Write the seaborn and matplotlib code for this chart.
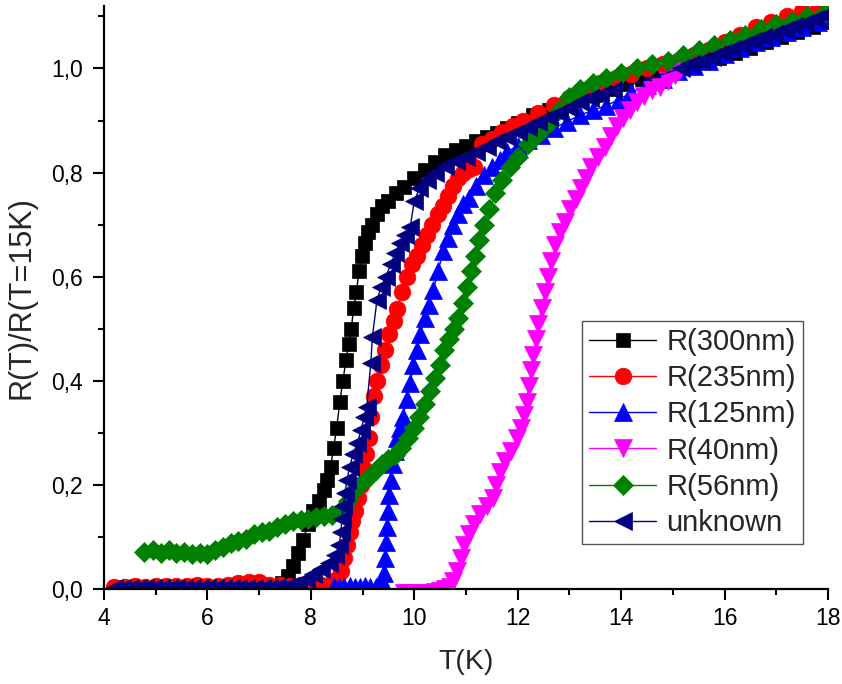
import matplotlib
matplotlib.use("Agg")
import matplotlib.pyplot as plt
import seaborn as sns
from matplotlib.ticker import MultipleLocator, FuncFormatter

# ── Data (T in K, normalised resistance) ─────────────────────────────────────
t_300 = [4.3, 4.5, 4.7, 4.9, 5.1, 5.3, 5.5, 5.7, 5.9, 6.1, 6.3, 6.5, 6.7, 6.9, 7.1, 7.3,
         7.45, 7.55, 7.65, 7.75, 7.85, 7.95, 8.05, 8.15, 8.25, 8.32, 8.38, 8.44, 8.5, 8.56,
         8.62, 8.68, 8.73, 8.78, 8.83, 8.88, 8.93, 8.98, 9.04, 9.1, 9.18, 9.27, 9.37, 9.5,
         9.65, 9.8, 10.0, 10.2, 10.4, 10.6, 10.8, 11.0, 11.2, 11.4, 11.6, 11.8, 12.0, 12.3,
         12.6, 12.9, 13.2, 13.5, 13.8, 14.1, 14.4, 14.7, 15.0, 15.3, 15.6, 15.9, 16.2, 16.5,
         16.8, 17.1, 17.4, 17.7, 18.0]
r_300 = [0.003, 0.003, 0.003, 0.003, 0.003, 0.003, 0.003, 0.003, 0.003, 0.003, 0.003, 0.003,
         0.003, 0.003, 0.004, 0.006,
         0.012, 0.025, 0.045, 0.07, 0.095, 0.125, 0.15, 0.17, 0.19, 0.21, 0.235, 0.27, 0.31, 0.36,
         0.40, 0.44, 0.47, 0.50, 0.54, 0.57, 0.61, 0.64, 0.665, 0.685, 0.70, 0.72, 0.735, 0.745,
         0.76, 0.772, 0.79, 0.805, 0.82, 0.833, 0.843, 0.852, 0.86, 0.868, 0.877, 0.885, 0.895, 0.91,
         0.92, 0.93, 0.94, 0.95, 0.96, 0.97, 0.98, 0.99, 0.998, 1.005, 1.012, 1.02, 1.03, 1.04,
         1.05, 1.06, 1.07, 1.08, 1.09]

t_235 = [4.2, 4.4, 4.6, 4.8, 5.0, 5.2, 5.4, 5.6, 5.8, 6.0, 6.2, 6.4, 6.6, 6.8, 7.0, 7.2, 7.4,
         7.6, 7.8, 8.0, 8.2, 8.4, 8.5, 8.58, 8.65, 8.7, 8.75, 8.8, 8.86, 8.92, 8.97, 9.02, 9.07,
         9.12, 9.17, 9.22, 9.28, 9.35, 9.43, 9.52, 9.6, 9.67, 9.76, 9.86, 9.95, 10.05, 10.15,
         10.25, 10.35, 10.45, 10.55, 10.65, 10.75, 10.85, 10.95, 11.05, 11.15,
         11.3, 11.5, 11.7, 11.9, 12.1, 12.4, 12.7, 13.0, 13.3, 13.6, 13.9, 14.2, 14.5, 14.8,
         15.1, 15.4, 15.7, 16.0, 16.3, 16.6, 16.9, 17.2, 17.5, 17.8, 18.0]
r_235 = [0.004, 0.004, 0.005, 0.004, 0.005, 0.006, 0.005, 0.006, 0.008, 0.006, 0.006, 0.007,
         0.011, 0.014, 0.013, 0.008, 0.007, 0.006, 0.007, 0.008, 0.008, 0.012, 0.02, 0.035, 0.06,
         0.085, 0.11, 0.13, 0.15, 0.175, 0.20, 0.23, 0.26, 0.29, 0.33, 0.37, 0.40, 0.43, 0.46,
         0.49, 0.515, 0.537, 0.57, 0.60, 0.625, 0.64, 0.66, 0.68, 0.70, 0.72, 0.735, 0.755, 0.775,
         0.79, 0.80, 0.806, 0.81,
         0.855, 0.865, 0.878, 0.89, 0.90, 0.915, 0.93, 0.944, 0.958, 0.972, 0.982, 0.99, 1.0,
         1.008, 1.015, 1.025, 1.035, 1.05, 1.065, 1.08, 1.09, 1.10, 1.11, 1.115, 1.12]

t_125 = [8.45, 8.55, 8.65, 8.75, 8.85, 8.95, 9.05, 9.15, 9.25, 9.35, 9.4, 9.42, 9.44, 9.46,
         9.48, 9.5, 9.52, 9.55, 9.58, 9.62, 9.67, 9.72, 9.78, 9.85, 9.92, 9.98, 10.05, 10.12,
         10.2, 10.28, 10.37, 10.46, 10.56, 10.65, 10.75, 10.85, 10.95, 11.05, 11.2, 11.35, 11.5,
         11.65, 11.8, 12.0, 12.2, 12.45, 12.7, 12.95, 13.2, 13.45, 13.7, 13.95, 14.2, 14.5, 14.8,
         15.1, 15.4, 15.7, 16.0, 16.3, 16.6, 16.9, 17.2, 17.5, 17.8, 18.0]
r_125 = [0.004, 0.004, 0.004, 0.005, 0.004, 0.004, 0.005, 0.004, 0.004, 0.005, 0.012, 0.03,
         0.06, 0.09, 0.12, 0.15, 0.18, 0.21, 0.24, 0.265, 0.29, 0.31, 0.33, 0.365, 0.396, 0.43,
         0.46, 0.49, 0.52, 0.545, 0.575, 0.61, 0.65, 0.675, 0.70, 0.72, 0.74, 0.752, 0.775, 0.795,
         0.81, 0.825, 0.84, 0.852, 0.862, 0.872, 0.885, 0.898, 0.91, 0.92, 0.928, 0.94, 0.954,
         0.968, 0.98, 0.995, 1.005, 1.015, 1.028, 1.04, 1.05, 1.06, 1.07, 1.08, 1.09, 1.10]

t_40 = [9.8, 9.9, 10.0, 10.1, 10.2, 10.3, 10.4, 10.5, 10.6, 10.7, 10.75, 10.82, 10.9, 10.97,
        11.05, 11.15, 11.27, 11.4, 11.52, 11.58, 11.65, 11.75, 11.87, 11.98, 12.06, 12.12, 12.17,
        12.21, 12.26, 12.3, 12.35, 12.4, 12.46, 12.52, 12.58, 12.65, 12.73, 12.82, 12.92, 13.02,
        13.12, 13.22, 13.32, 13.42, 13.55, 13.68, 13.8, 13.92, 14.04, 14.17, 14.3, 14.45, 14.6,
        14.75, 14.9, 15.05, 15.12]
r_40 = [-0.008, -0.008, -0.008, -0.008, -0.008, -0.008, -0.006, -0.004, 0.0, 0.004, 0.015, 0.035,
        0.06, 0.085, 0.105, 0.125, 0.145, 0.16, 0.175, 0.20, 0.225, 0.245, 0.265, 0.29, 0.31,
        0.335, 0.36, 0.39, 0.42, 0.45, 0.48, 0.51, 0.54, 0.57, 0.60, 0.63, 0.66, 0.685, 0.705,
        0.73, 0.75, 0.77, 0.79, 0.81, 0.83, 0.85, 0.87, 0.89, 0.905, 0.92, 0.935, 0.948, 0.958,
        0.965, 0.975, 0.988, 0.995]

t_56 = [4.78, 4.95, 5.1, 5.25, 5.4, 5.55, 5.7, 5.85, 6.0, 6.15, 6.3, 6.45, 6.6, 6.75, 6.9,
        7.05, 7.2, 7.35, 7.5, 7.65, 7.8, 7.95, 8.1, 8.25, 8.4, 8.55, 8.65, 8.72, 8.8, 8.9, 9.0,
        9.12, 9.25, 9.38, 9.5, 9.62, 9.75, 9.88, 10.0, 10.1, 10.2, 10.3, 10.4, 10.5, 10.58,
        10.67, 10.76, 10.85, 10.94, 11.02, 11.1, 11.18, 11.26, 11.35, 11.45, 11.57, 11.7, 11.85,
        12.0, 12.2, 12.4, 12.6, 12.8, 13.0, 13.2, 13.45, 13.7, 14.0, 14.3, 14.6, 14.9, 15.2,
        15.5, 15.8, 16.1, 16.4, 16.7, 17.0, 17.3, 17.6, 17.9, 18.0]
r_56 = [0.072, 0.074, 0.07, 0.075, 0.07, 0.072, 0.068, 0.07, 0.068, 0.075, 0.08, 0.088, 0.092,
        0.097, 0.105, 0.11, 0.112, 0.12, 0.125, 0.13, 0.132, 0.135, 0.138, 0.14, 0.142, 0.148,
        0.155, 0.17, 0.185, 0.195, 0.205, 0.215, 0.228, 0.24, 0.25, 0.258, 0.27, 0.29, 0.31,
        0.33, 0.355, 0.38, 0.405, 0.43, 0.46, 0.48, 0.50, 0.52, 0.55, 0.58, 0.61, 0.64, 0.67,
        0.70, 0.73, 0.76, 0.785, 0.81, 0.83, 0.855, 0.875, 0.895, 0.92, 0.945, 0.96, 0.972,
        0.982, 0.992, 1.0, 1.008, 1.015, 1.025, 1.035, 1.045, 1.055, 1.065, 1.075, 1.085,
        1.092, 1.10, 1.105, 1.108]

t_unk = [4.2, 4.35, 4.5, 4.65, 4.8, 4.95, 5.1, 5.25, 5.4, 5.55, 5.7, 5.85, 6.0, 6.15, 6.3,
         6.45, 6.6, 6.75, 6.9, 7.05, 7.2, 7.35, 7.5, 7.6, 7.75, 7.9, 8.05, 8.2, 8.35, 8.47, 8.55,
         8.58, 8.6, 8.63, 8.66, 8.7, 8.75, 8.82, 8.9, 8.97, 9.03, 9.08, 9.16, 9.19, 9.28, 9.36,
         9.45, 9.55, 9.63, 9.72, 9.82, 9.92, 10.0, 10.1, 10.25, 10.4, 10.6, 10.8, 11.0, 11.2,
         11.4, 11.6, 11.8, 12.0, 12.2, 12.4, 12.6, 12.8, 13.0, 13.2, 13.4, 13.6, 13.85,
         15.15, 15.35, 15.55, 15.75, 15.95, 16.15, 16.35, 16.55, 16.75, 16.95, 17.15, 17.35,
         17.55, 17.75, 17.95]
r_unk = [0.002, 0.002, 0.002, 0.002, 0.002, 0.002, 0.002, 0.002, 0.002, 0.002, 0.002, 0.002,
         0.002, 0.002, 0.002, 0.002, 0.002, 0.002, 0.002, 0.002, 0.002, 0.003, 0.004, 0.006,
         0.012, 0.02, 0.028, 0.038, 0.05, 0.065, 0.085, 0.11, 0.135, 0.16, 0.185, 0.21, 0.235,
         0.26, 0.28, 0.305, 0.33, 0.35, 0.435, 0.485, 0.556, 0.58, 0.60, 0.625, 0.645, 0.665,
         0.68, 0.695, 0.745, 0.77, 0.785, 0.80, 0.812, 0.822, 0.83, 0.84, 0.85, 0.86, 0.868,
         0.878, 0.888, 0.898, 0.906, 0.915, 0.925, 0.935, 0.943, 0.95, 0.958,
         1.0, 1.008, 1.015, 1.022, 1.03, 1.038, 1.045, 1.052, 1.06, 1.067, 1.074, 1.081,
         1.088, 1.095, 1.103]

series = [
    ("R(300nm)", t_300, r_300, "#000000", "s", 10.5),
    ("R(235nm)", t_235, r_235, "#ff0000", "o", 12),
    ("R(125nm)", t_125, r_125, "#0000ff", "^", 12.5),
    ("R(40nm)",  t_40,  r_40,  "#ff00ff", "v", 12.5),
    ("R(56nm)",  t_56,  r_56,  "#008000", "D", 10),
    ("unknown",  t_unk, r_unk, "#000080", "<", 12.5),
]

# ── Plot ──────────────────────────────────────────────────────────────────────
sns.set_style("ticks")
plt.rcParams["font.family"] = ["Liberation Sans", "DejaVu Sans"]

fig = plt.figure(figsize=(8.42, 6.84), dpi=100)
ax = fig.add_axes([0.1235, 0.1389, 0.8599, 0.8523])

for label, t, r, col, mk, ms in series:
    sns.lineplot(x=t, y=r, ax=ax, color=col, marker=mk, markersize=ms,
                 markeredgecolor=col, markeredgewidth=0.5, linewidth=1.0,
                 estimator=None, sort=False, label=label)

ax.set_xlim(4, 18)
ax.set_ylim(0, 1.12)
ax.xaxis.set_major_locator(MultipleLocator(2))
ax.xaxis.set_minor_locator(MultipleLocator(1))
ax.yaxis.set_major_locator(MultipleLocator(0.2))
ax.yaxis.set_minor_locator(MultipleLocator(0.1))
ax.yaxis.set_major_formatter(FuncFormatter(lambda v, p: f"{v:.1f}".replace(".", ",")))
ax.xaxis.set_major_formatter(FuncFormatter(lambda v, p: f"{v:.0f}"))

sns.despine(ax=ax)
for side in ["left", "bottom"]:
    ax.spines[side].set_linewidth(1.6)
    ax.spines[side].set_color("black")
ax.tick_params(which="major", direction="out", length=8, width=1.5, labelsize=16.5,
               colors="black", pad=5)
ax.tick_params(which="minor", direction="out", length=4.5, width=1.5, colors="black")
ax.tick_params(axis="y", which="major", pad=7)

ax.set_xlabel("T(K)", fontsize=20.5, labelpad=14)
ax.set_ylabel("R(T)/R(T=15K)", fontsize=22, labelpad=11)

leg = ax.legend(loc="upper left", bbox_to_anchor=(0.66, 0.46), borderaxespad=0,
                fontsize=21, frameon=True, fancybox=False, framealpha=1,
                edgecolor="#555555", handlelength=2.3, handletextpad=0.35,
                labelspacing=0.28, borderpad=0.25)
leg.get_frame().set_linewidth(1.0)

fig.savefig("out.png", dpi=100)
